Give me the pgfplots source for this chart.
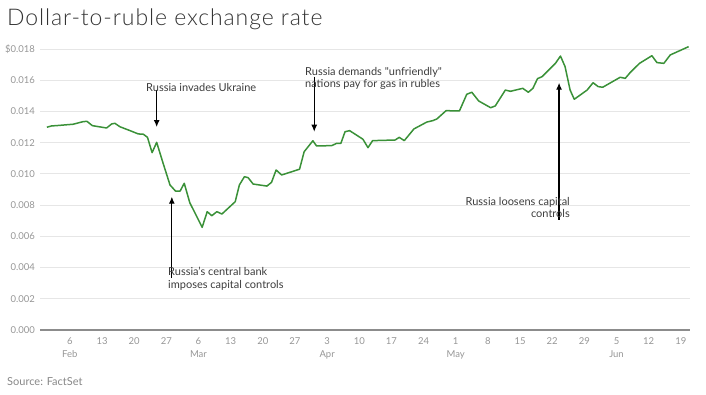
\documentclass[border=0pt]{standalone}
\usepackage{fontspec}
\setmainfont{Lato}
\newfontfamily\titlefont{Lato Light}[LetterSpace=4]
\usepackage{pgfplots}
\pgfplotsset{compat=1.18}
\usetikzlibrary{arrows.meta}
\definecolor{lineg}{RGB}{58,145,56}
\definecolor{tickg}{RGB}{150,150,150}
\definecolor{gridg}{RGB}{230,230,230}
\definecolor{anng}{RGB}{60,60,60}
\definecolor{axg}{RGB}{140,140,140}

\pgfplotstableread{
d v
32 0.01299
33 0.01307
34.4 0.01310
37.7 0.01318
39.8 0.01334
40.7 0.01337
41.9 0.01309
45.0 0.01294
46.1 0.01320
46.8 0.01324
47.9 0.01302
50.1 0.01277
51.9 0.01256
53.0 0.01254
53.9 0.01234
54.9 0.01136
55.9 0.01202
57.3 0.01068
58.8 0.00929
60.0 0.00890
61.0 0.00890
61.9 0.00940
63.1 0.00816
65.8 0.00658
66.9 0.00758
67.9 0.00732
69.0 0.00758
70.1 0.00743
73.0 0.00822
73.9 0.00929
75.0 0.00982
75.8 0.00976
76.9 0.00935
79.9 0.00922
80.9 0.00946
81.9 0.01025
83.1 0.00993
87.0 0.01030
88.0 0.01142
89.9 0.01212
90.7 0.01179
94.0 0.01181
95.1 0.01196
96.0 0.01196
96.9 0.01270
97.9 0.01277
100.8 0.01222
101.9 0.01168
102.9 0.01213
107.8 0.01217
108.7 0.01234
109.8 0.01213
111.9 0.01288
114.7 0.01332
116.0 0.01341
116.9 0.01352
118.9 0.01405
121.8 0.01403
123.4 0.01510
124.5 0.01523
126.0 0.01467
128.6 0.01424
129.6 0.01435
131.8 0.01537
132.9 0.01529
135.6 0.01548
136.8 0.01523
137.8 0.01548
138.8 0.01610
139.8 0.01623
142.7 0.01708
143.8 0.01755
144.8 0.01687
145.9 0.01537
146.8 0.01478
149.6 0.01537
150.9 0.01584
152.0 0.01559
153.0 0.01555
156.8 0.01619
157.9 0.01612
159.0 0.01650
161.0 0.01708
163.7 0.01757
164.8 0.01713
166.3 0.01708
167.7 0.01762
171.7 0.01815
}\rubledata

\begin{document}
\begin{tikzpicture}[x=1bp,y=1bp]
\useasboundingbox (0,0) rectangle (706,394);
\node[anchor=base west, inner sep=0, font=\titlefont\fontsize{23bp}{27bp}\selectfont, text=black!80] at (7,369) {Dollar-to-ruble exchange rate};
\node[anchor=base west, inner sep=0, font=\fontsize{11bp}{13bp}\selectfont, text=tickg!90!black] at (7,9) {Source: FactSet};
\begin{axis}[at={(40bp,64bp)}, anchor=south west, scale only axis,
  width=650bp, height=281bp,
  xmin=30.5, xmax=172, ymin=0, ymax=0.018,
  scaled y ticks=false,
  axis line style={draw=none}, major tick length=0,
  ytick={0,0.002,0.004,0.006,0.008,0.010,0.012,0.014,0.016,0.018},
  yticklabels={0.000,0.002,0.004,0.006,0.008,0.010,0.012,0.014,0.016,\$0.018},
  ymajorgrids, grid style={gridg, line width=0.8bp},
  xtick={37,44,51,58,65,72,79,86,93,100,107,114,121,128,135,142,149,156,163,170},
  xticklabels={6\\Feb,13,20,27,6\\Mar,13,20,27,3\\Apr,10,17,24,1\\May,8,15,22,29,5\\Jun,12,19},
  xticklabel style={align=center, anchor=north, inner sep=0, yshift=-7bp,
    font=\fontsize{9.5bp}{13bp}\selectfont, text=tickg},
  yticklabel style={anchor=east, inner sep=0, xshift=-5bp,
    font=\fontsize{9.5bp}{12bp}\selectfont, text=tickg},
  clip=false,
]
\draw[axg, line width=1.4bp] (axis cs:30.5,0) -- (axis cs:172,0);
\addplot[lineg, line width=1.5bp, line join=round] table[x=d,y=v] {\rubledata};
\draw[black, line width=1.2bp, -{Latex[length=7bp,width=6bp]}] (axis cs:55.9,0.01537) -- (axis cs:55.9,0.01300);
\draw[black, line width=1.2bp, -{Latex[length=7bp,width=6bp]}] (axis cs:59.2,0.00333) -- (axis cs:59.2,0.00854);
\draw[black, line width=1.2bp, -{Latex[length=7bp,width=6bp]}] (axis cs:90.2,0.01623) -- (axis cs:90.2,0.01270);
\draw[black, line width=1.2bp, -{Latex[length=7bp,width=6bp]}] (axis cs:143.5,0.00705) -- (axis cs:143.5,0.01584);
\end{axis}
\begin{scope}[every node/.style={inner sep=0, font=\fontsize{11bp}{13bp}\selectfont, text=anng}]
\node[anchor=base west] at (146,303) {Russia invades Ukraine};
\node[anchor=base west] at (168,119) {Russia's central bank};
\node[anchor=base west] at (168,106) {imposes capital controls};
\node[anchor=base west] at (305,319) {Russia demands \textquotedbl unfriendly\textquotedbl};
\node[anchor=base west] at (305,307) {nations pay for gas in rubles};
\node[anchor=base east] at (570,189) {Russia loosens capital};
\node[anchor=base east] at (570,176.5) {controls};
\end{scope}
\end{tikzpicture}
\end{document}
